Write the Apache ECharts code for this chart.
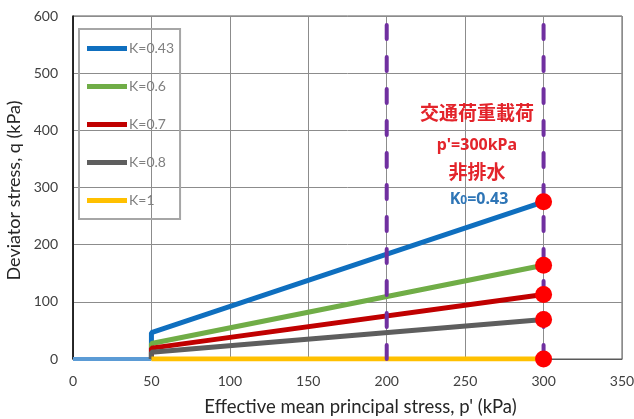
<!DOCTYPE html>
<html><head><meta charset="utf-8">
<script src="https://cdn.jsdelivr.net/npm/echarts@6/dist/echarts.min.js"></script>
<style>html,body{margin:0;padding:0;background:#fff}#c{width:634px;height:419px}</style>
</head><body><div id="c"></div>
<script>
// Data
const seriesNames = ['K=0.43', 'K=0.6', 'K=0.7', 'K=0.8', 'K=1'];
const pStart = 50;
const pEnd = 300;
const qAtStart = [46, 27, 19, 12, 0];
const qAtEnd = [275, 164, 113, 69, 0];
const preLoadPath = [[0, 0], [50, 0]];
const verticalMarkers = [200, 300];
const xTicks = { min: 0, max: 350, interval: 50 };
const yTicks = { min: 0, max: 600, interval: 100 };
const colors = ['#0F6FBF', '#70AD47', '#C00000', '#5E5E5E', '#FFC000'];

const font = 'Lato, "Open Sans", sans-serif';
const chart = echarts.init(document.getElementById('c'));

const series = [];
series.push({
  name: 'pre', type: 'line', data: preLoadPath, symbol: 'none',
  lineStyle: { color: '#5B9BD5', width: 4 }, z: 2, silent: true
});
seriesNames.forEach((n, i) => {
  series.push({
    name: n, type: 'line', symbol: 'none', z: 3 + i,
    data: [[pStart, 0], [pStart, qAtStart[i]], [pEnd, qAtEnd[i]]],
    lineStyle: { color: colors[i], width: 5 }, itemStyle: { color: colors[i] }
  });
});
verticalMarkers.forEach(x => {
  series.push({
    name: 'v' + x, type: 'line', symbol: 'none', z: 10, silent: true,
    data: [[x, yTicks.min], [x, yTicks.max]],
    lineStyle: { color: '#7030A0', width: 4, type: [14, 18], cap: 'round' }
  });
});
series.push({
  name: 'pts', type: 'scatter', z: 12, symbolSize: 17,
  itemStyle: { color: '#FF0000', opacity: 1 },
  data: qAtEnd.map(q => [pEnd, q])
});

chart.setOption({
  animation: false,
  backgroundColor: '#fff',
  grid: { left: 73, right: 12, top: 16, bottom: 60, show: true, borderColor: '#595959', borderWidth: 1,
          containLabel: false, outerBoundsMode: 'none' },
  legend: {
    data: seriesNames, orient: 'vertical', left: 79, top: 29,
    padding: [12, 6, 11, 8], itemWidth: 40, itemHeight: 5, itemGap: 23,
    icon: 'rect', borderColor: '#A6A6A6', borderWidth: 2, backgroundColor: 'transparent',
    textStyle: { color: '#7F7F7F', fontSize: 14, fontFamily: font, lineHeight: 15, padding: [0, 0, 0, -3] }
  },
  xAxis: {
    type: 'value', min: xTicks.min, max: xTicks.max, interval: xTicks.interval,
    name: "Effective mean principal stress, p' (kPa)", nameLocation: 'middle', nameGap: 39,
    nameTextStyle: { color: '#262626', fontSize: 18.5, fontFamily: font, padding: [0, 0, 0, 26] },
    axisLine: { show: true, lineStyle: { color: '#595959' } }, axisTick: { show: false },
    axisLabel: { color: '#404040', fontSize: 14, fontFamily: font, margin: 15 },
    splitLine: { lineStyle: { color: '#8C8C8C' } }
  },
  yAxis: {
    type: 'value', min: yTicks.min, max: yTicks.max, interval: yTicks.interval,
    name: 'Deviator stress, q (kPa)', nameLocation: 'middle', nameGap: 43,
    nameTextStyle: { color: '#262626', fontSize: 18, fontFamily: font, padding: [0, 6, 0, 0] },
    axisLine: { show: true, lineStyle: { color: '#000', width: 1.5 } }, axisTick: { show: false },
    axisLabel: { color: '#404040', fontSize: 14, fontFamily: font, margin: 15 },
    splitLine: { lineStyle: { color: '#8C8C8C' } }
  },
  graphic: [
    { type: 'text', x: 477, y: 113, style: { text: '交通荷重載荷', fill: '#E3242B', font: 'bold 19px "Noto Sans CJK JP"', align: 'center', verticalAlign: 'middle' }, z: 20 },
    { type: 'text', x: 477, y: 145, style: { text: "p'=300kPa", fill: '#E3242B', font: 'bold 16px "Noto Sans", sans-serif', align: 'center', verticalAlign: 'middle' }, z: 20 },
    { type: 'text', x: 477, y: 172, style: { text: '非排水', fill: '#E3242B', font: 'bold 19px "Noto Sans CJK JP"', align: 'center', verticalAlign: 'middle' }, z: 20 },
    { type: 'text', x: 479, y: 199, z: 20, style: {
        text: '{a|K}{b|0}{a|=0.43}', align: 'center', verticalAlign: 'middle',
        rich: {
          a: { fill: '#2E75B6', font: 'bold 16px "Noto Sans", sans-serif' },
          b: { fill: '#2E75B6', font: 'bold 12px "Noto Sans", sans-serif', padding: [3, 0, 0, 0] }
        } } }
  ],
  series: series
});
</script></body></html>
